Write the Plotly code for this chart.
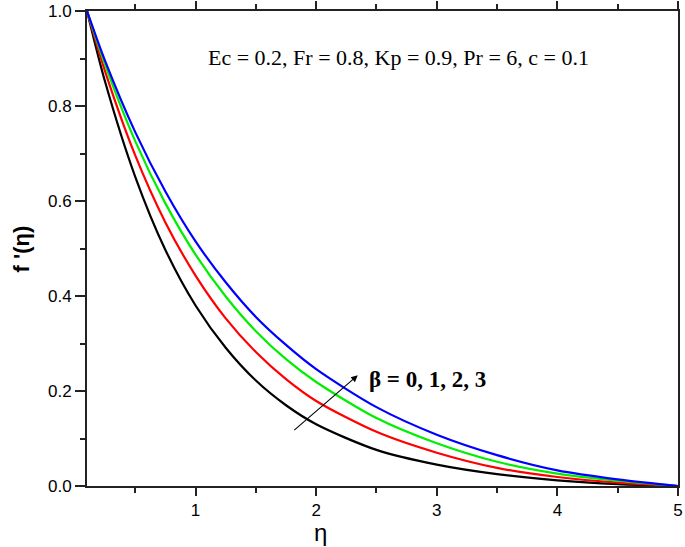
import plotly.graph_objects as go

eta = [0.1, 0.25, 0.5, 0.75, 1.0, 1.25, 1.5, 1.75, 2.0, 2.5, 3.0, 3.5, 4.0, 4.5, 5.0]
beta0 = [1.0, 0.851, 0.651, 0.497, 0.380, 0.291, 0.222, 0.170, 0.130, 0.076, 0.045, 0.025, 0.012, 0.004, 0.0]
beta1 = [1.0, 0.873, 0.696, 0.555, 0.443, 0.353, 0.282, 0.225, 0.179, 0.114, 0.070, 0.038, 0.019, 0.007, 0.0]
beta2 = [1.0, 0.887, 0.726, 0.595, 0.487, 0.399, 0.326, 0.267, 0.219, 0.143, 0.090, 0.051, 0.026, 0.011, 0.0]
beta3 = [1.0, 0.895, 0.745, 0.620, 0.515, 0.429, 0.356, 0.297, 0.246, 0.166, 0.108, 0.065, 0.033, 0.014, 0.0]

series = [("β = 0", beta0, "#000000"), ("β = 1", beta1, "#ff0000"),
          ("β = 2", beta2, "#00ee00"), ("β = 3", beta3, "#0000ff")]

x_ticks = [1, 2, 3, 4, 5]
y_ticks = [0.0, 0.2, 0.4, 0.6, 0.8, 1.0]

fig = go.Figure()
for name, ys, col in series:
    fig.add_trace(go.Scatter(x=eta, y=ys, mode="lines", name=name,
                             line=dict(color=col, width=2.2, shape="spline", smoothing=0.8)))

fig.add_annotation(x=2.685, y=0.9025, xref="x", yref="y", showarrow=False,
                   text="Ec = 0.2, Fr = 0.8, Kp = 0.9, Pr = 6, c = 0.1",
                   font=dict(family="Liberation Serif", size=22, color="black"))
fig.add_annotation(x=2.42, y=0.225, xref="x", yref="y", showarrow=False, xanchor="left",
                   text="<b>β = 0, 1, 2, 3</b>",
                   font=dict(family="Liberation Serif", size=23, color="black"))
fig.add_annotation(x=2.345, y=0.233, ax=1.806, ay=0.115, xref="x", yref="y",
                   axref="x", ayref="y", showarrow=True, arrowhead=2, arrowsize=1.2,
                   arrowwidth=1.1, arrowcolor="black", text="")
# axis titles
fig.add_annotation(x=0.395, y=-0.097, xref="paper", yref="paper", yanchor="middle",
                   showarrow=False, text="η",
                   font=dict(family="Liberation Sans", size=24, color="black"))
fig.add_annotation(x=-0.11, y=0.5, xref="paper", yref="paper", xanchor="center",
                   showarrow=False, text="<b>f '(η)</b>", textangle=-90,
                   font=dict(family="Liberation Sans", size=22, color="black"))

axis_common = dict(showgrid=False, zeroline=False, showline=True, linecolor="#222",
                   linewidth=2, ticks="outside", tickcolor="#222", tickwidth=1.5,
                   automargin=False,
                   tickfont=dict(family="Liberation Sans", size=17, color="black"))

fig.update_xaxes(range=[0.1, 5.0001], tickvals=x_ticks, ticklen=8, mirror="ticks",
                 minor=dict(dtick=0.5, tick0=0, ticks="outside", ticklen=5, tickcolor="#222", tickwidth=1.5),
                 **axis_common)
fig.update_yaxes(range=[0, 1], tickvals=y_ticks, ticktext=[f"{v:.1f}" for v in y_ticks],
                 ticklen=10, mirror=True,
                 minor=dict(dtick=0.1, tick0=0, ticks="outside", ticklen=5, tickcolor="#222", tickwidth=1.5),
                 **axis_common)

fig.update_layout(width=685, height=547, margin=dict(l=87, r=7, t=11, b=61),
                  plot_bgcolor="white", paper_bgcolor="white", showlegend=False)

fig.write_html("out.html", config={"displayModeBar": False},
               post_script="document.body.style.margin='0';document.body.style.overflow='hidden';")
